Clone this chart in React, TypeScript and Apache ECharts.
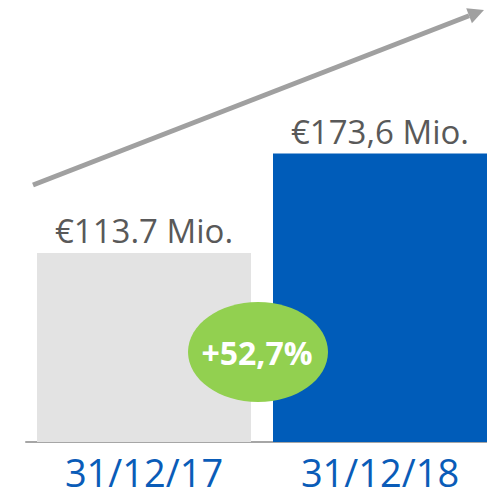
import React, { useEffect, useRef } from "react";
import * as echarts from "echarts";

const categories = ["31/12/17", "31/12/18"];
const values = [113.7, 173.6];
const valueLabels = ["€113.7 Mio.", "€173,6 Mio."];
const barColors = ["#e3e3e3", "#005cb9"];
const growthLabel = "+52,7%";

export default function App() {
  const ref = useRef<HTMLDivElement>(null);
  useEffect(() => {
    const chart = echarts.init(ref.current!, undefined, { renderer: "svg" });
    const ang = Math.atan2(12 - 185, 483 - 33);
    const tipX = 484, tipY = 10;
    const L = 16, W = 8;
    const bx = tipX - L * Math.cos(ang), by = tipY - L * Math.sin(ang);
    const px = -Math.sin(ang), py = Math.cos(ang);
    chart.setOption({
      animation: false,
      grid: { left: 26, width: 472, top: 0, bottom: 51, outerBoundsMode: "none", containLabel: false },
      xAxis: {
        type: "category",
        data: categories,
        axisTick: { show: false },
        axisLine: { lineStyle: { color: "#a6a6a6", width: 2 } },
        axisLabel: {
          color: "#0a5cb8",
          fontSize: 38,
          lineHeight: 38,
          fontFamily: "Open Sans",
          margin: 11,
        },
      },
      yAxis: { type: "value", min: 0, max: 266, show: false, splitLine: { show: false } },
      series: [
        {
          type: "bar",
          barWidth: 214,
          data: values.map((v, i) => ({
            value: v,
            itemStyle: { color: barColors[i] },
            label: {
              show: true,
              position: "top",
              distance: 6,
              formatter: valueLabels[i],
              color: "#595959",
              fontSize: 33,
              fontFamily: "Open Sans",
            },
          })),
        },
      ],
      graphic: [
        {
          type: "line",
          z: 100,
          shape: { x1: 33, y1: 185, x2: bx, y2: by },
          style: { stroke: "#a0a0a0", lineWidth: 5 },
        },
        {
          type: "polygon",
          z: 100,
          shape: {
            points: [
              [tipX, tipY],
              [bx + px * W, by + py * W],
              [bx - px * W, by - py * W],
            ],
          },
          style: { fill: "#a0a0a0" },
        },
        {
          type: "ellipse",
          z: 100,
          shape: { cx: 258, cy: 352, rx: 70, ry: 50 },
          style: { fill: "#92d050" },
        },
        {
          type: "text",
          z: 101,
          x: 257,
          y: 352,
          style: {
            text: growthLabel,
            fill: "#ffffff",
            fontSize: 32,
            fontWeight: "bold",
            fontFamily: "Open Sans",
            align: "center",
            verticalAlign: "middle",
          },
        },
      ],
    });
    return () => chart.dispose();
  }, []);
  return <div ref={ref} style={{ width: 487, height: 493, position: "absolute", left: 0, top: 0 }} />;
}
